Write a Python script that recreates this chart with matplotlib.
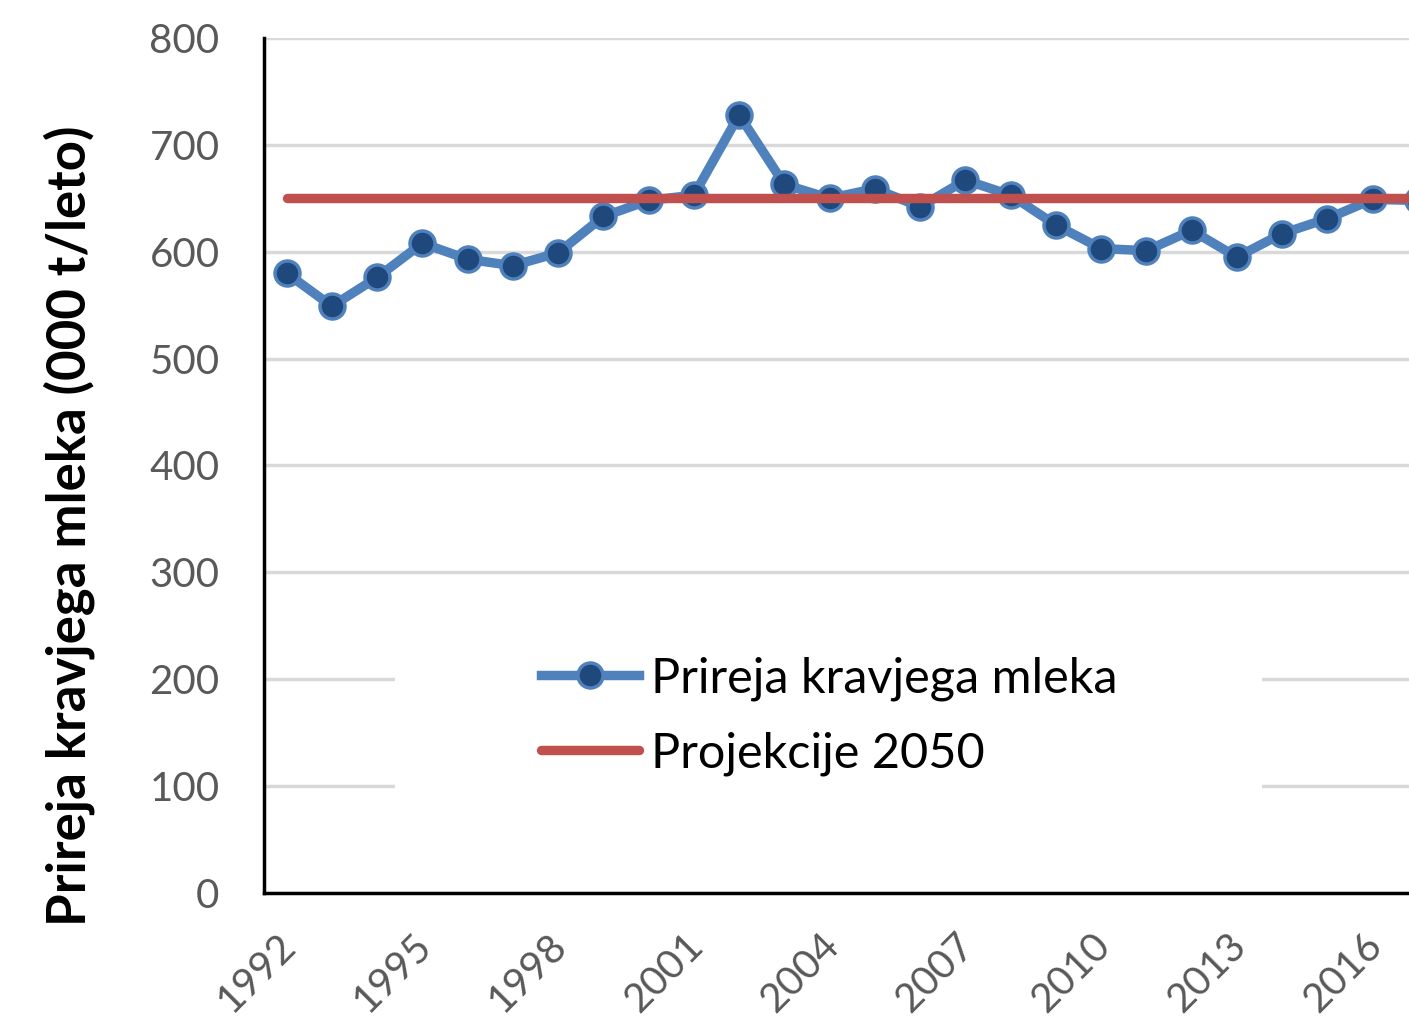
import numpy as np
import matplotlib.pyplot as plt
import matplotlib.transforms as mtransforms
from matplotlib.patches import Rectangle

# data
years = np.arange(1992, 2018)
milk = [580, 549, 576, 608, 593, 587, 599, 633, 648, 653, 728, 663, 650,
        659, 642, 667, 653, 625, 603, 601, 620, 595, 617, 631, 649, 648]
projection = [650] * len(years)
tick_years = list(range(1992, 2017, 3))
yticks = list(range(0, 801, 100))

plt.rcParams['font.family'] = ['Lato', 'DejaVu Sans']

blue = "#4f81bd"
dark = "#1f497d"
red = "#c0504d"
grey = "#595959"

fig = plt.figure(figsize=(14.09, 10.17), dpi=100)
ax = fig.add_axes([264 / 1409, 124 / 1017, 1 - 264 / 1409, 855 / 1017])

ax.plot(years, milk, color=blue, lw=6.8, marker="o", markersize=18,
        markerfacecolor=dark, markeredgecolor=blue, markeredgewidth=2.5,
        label="Prireja kravjega mleka", zorder=3)
ax.plot(years, projection, color=red, lw=6.8, solid_capstyle="round",
        label="Projekcije 2050", zorder=4)

ax.set_xlim(1991.5, 1991.5 + 1145 / 45.25)
ax.set_ylim(0, 800)
ax.set_yticks(yticks)
ax.set_xticks(tick_years)
ax.set_xticklabels([str(y) for y in tick_years], rotation=45, ha="right",
                   rotation_mode="anchor")
ax.tick_params(axis="both", length=0, labelsize=29, colors=grey)
ax.tick_params(axis="y", pad=32)
ax.tick_params(axis="x", pad=24)

# nudge the year labels a little to the left
shift = mtransforms.ScaledTranslation(-10 / 100, 0, fig.dpi_scale_trans)
for lab in ax.get_xticklabels():
    lab.set_transform(lab.get_transform() + shift)

ax.set_axisbelow(True)
ax.grid(axis="y", color="#d9d9d9", lw=2.5)
for s in ["top", "right"]:
    ax.spines[s].set_visible(False)
for s in ["left", "bottom"]:
    ax.spines[s].set_linewidth(2.5)
    ax.spines[s].set_color("black")

ax.set_ylabel("Prireja kravjega mleka (000 t/leto)", fontsize=38,
              fontweight="bold", color="black")
ax.yaxis.set_label_coords(-0.148, 0.43)

# white legend area covering the grid lines
ax.add_patch(Rectangle((131 / 1145, 93 / 855), 867 / 1145, 190 / 855,
                       transform=ax.transAxes, facecolor="white",
                       edgecolor="none", zorder=1))

leg = ax.legend(loc="center left", bbox_to_anchor=(253 / 1145, 177 / 855),
                frameon=False, fontsize=35, handlelength=2.0,
                handletextpad=0.25, labelspacing=0.62, borderpad=0)
for t in leg.get_texts():
    t.set_color("black")

plt.savefig("out.png", dpi=100)
